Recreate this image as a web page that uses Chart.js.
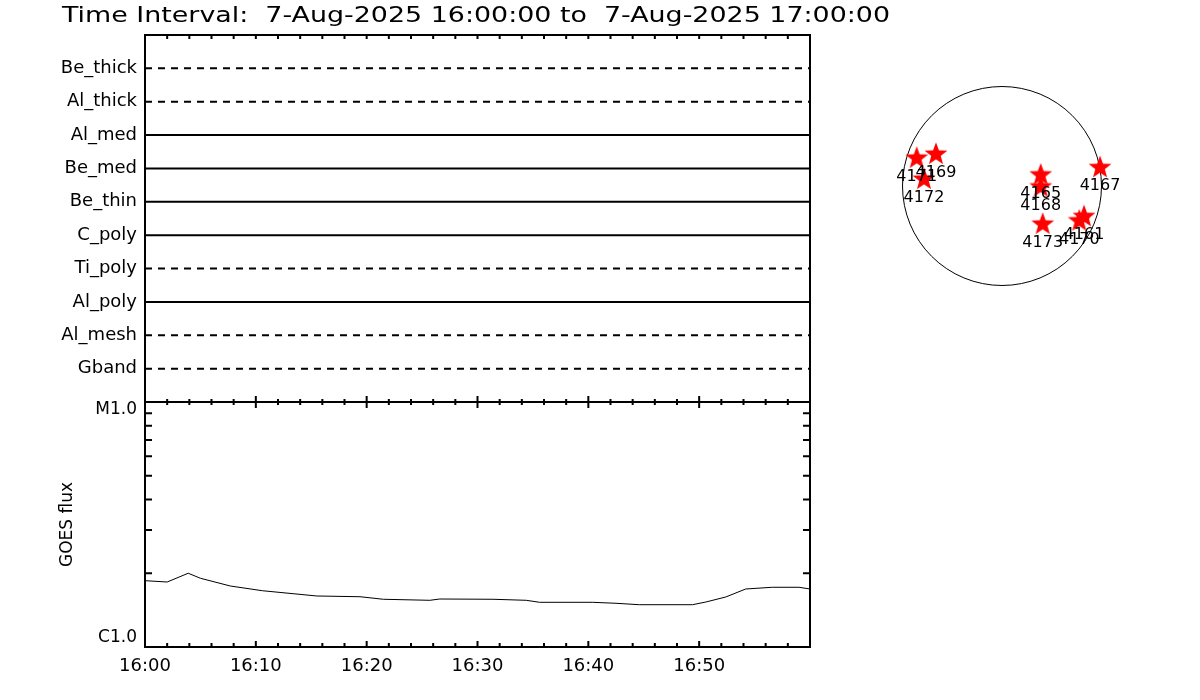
<!DOCTYPE html>
<html>
<head>
<meta charset="utf-8">
<script src="https://cdn.jsdelivr.net/npm/chart.js@4.4.1/dist/chart.umd.min.js"></script>
<style>
    html, body {margin: 0; padding: 0; background: #fff;}
    #wrap {position: relative; width: 1200px; height: 700px; overflow: hidden; background: #fff;}
    #main {position: absolute; left: 0; top: 0;}
    #disk {position: absolute; left: 872px; top: 56px;}
</style>
</head>
<body>
<div id="wrap">
    <canvas id="main" width="900" height="700"></canvas>
    <canvas id="disk" width="260" height="260"></canvas>
</div>
<script>
const titleText = 'Time Interval:  7-Aug-2025 16:00:00 to  7-Aug-2025 17:00:00';

// filter rows, top to bottom
const filterNames = ['Be_thick', 'Al_thick', 'Al_med', 'Be_med', 'Be_thin', 'C_poly', 'Ti_poly', 'Al_poly', 'Al_mesh', 'Gband'];
const filterDashed = [true, true, false, false, false, false, true, false, true, true];

// GOES flux, minutes after 16:00
const goesMinutes = [0, 2, 3.9, 5, 7.7, 10.6, 15.5, 19.4, 21.5, 25.7, 26.6, 31.4, 34.4, 35.6, 40.4, 42.5, 44.6, 49.4, 50.6, 52.4, 54.2, 56.6, 59, 60];
const goesFlux = [1.865e-6, 1.842e-6, 2.0e-6, 1.908e-6, 1.774e-6, 1.697e-6, 1.615e-6, 1.604e-6, 1.566e-6, 1.551e-6, 1.570e-6, 1.566e-6,
    1.551e-6, 1.522e-6, 1.522e-6, 1.508e-6, 1.488e-6, 1.488e-6, 1.526e-6, 1.600e-6, 1.725e-6, 1.753e-6, 1.753e-6, 1.725e-6];
const goesTickLabels = {'1e-6': 'C1.0', '1e-5': 'M1.0'};

// active regions on the disk (arcsec)
const arNumbers = ['4171', '4169', '4172', '4165', '4168', '4167', '4173', '4161', '4170'];
const arX = [-811, -628, -742, 368, 368, 932, 387, 780, 735];
const arY = [268, 306, 68, 109, -5, 179, -359, -287, -328];
const sunRadius = 946;

const FONT = "'DejaVu Sans', sans-serif";

const frame = {
    id: 'frame',
    afterDatasetsDraw(chart) {
        const {ctx, chartArea: a, scales} = chart;
        const x = scales.x, yg = scales.yg;
        const yMid = yg.getPixelForValue(1e-5);
        ctx.save();
        ctx.strokeStyle = '#000';
        ctx.lineWidth = 2;
        ctx.strokeRect(a.left, a.top, a.right - a.left, a.bottom - a.top);
        ctx.beginPath();
        ctx.moveTo(a.left, yMid);
        ctx.lineTo(a.right, yMid);
        ctx.stroke();

        ctx.beginPath();
        for (let m = 0; m <= 60; m += 2) {
            const px = x.getPixelForValue(m);
            const major = m % 10 === 0;
            ctx.moveTo(px, a.top);
            ctx.lineTo(px, a.top + 4);
            ctx.moveTo(px, yMid - (major ? 6 : 3));
            ctx.lineTo(px, yMid + (major ? 6 : 3));
            ctx.moveTo(px, a.bottom);
            ctx.lineTo(px, a.bottom - (major ? 6 : 4));
        }
        for (let k = 2; k <= 9; k++) {
            const py = yg.getPixelForValue(k * 1e-6);
            ctx.moveTo(a.left, py);
            ctx.lineTo(a.left + 7, py);
            ctx.moveTo(a.right, py);
            ctx.lineTo(a.right - 7, py);
        }
        ctx.stroke();

        ctx.fillStyle = '#000';
        ctx.font = '17px ' + FONT;
        ctx.textAlign = 'right';
        ctx.textBaseline = 'middle';
        ctx.fillText(goesTickLabels['1e-5'], a.left - 8, yMid + 8);
        ctx.fillText(goesTickLabels['1e-6'], a.left - 8, yg.getPixelForValue(1e-6) - 9);

        // title, stretched to the width of the original
        ctx.font = '22px ' + FONT;
        ctx.textAlign = 'left';
        const w0 = ctx.measureText(titleText).width;
        ctx.translate(62, 16);
        ctx.scale(828 / w0, 1);
        ctx.fillText(titleText, 0, 0);
        ctx.restore();
    }
};

const filterSets = filterNames.map((name, i) => ({
    label: name,
    data: [{x: 0, y: 10 - i}, {x: 60, y: 10 - i}],
    yAxisID: 'yf',
    borderColor: '#000',
    borderWidth: 2,
    borderDash: filterDashed[i] ? [7, 6] : [],
    pointRadius: 0
}));

const goesSet = {
    label: 'GOES',
    data: goesMinutes.map((m, i) => ({x: m, y: goesFlux[i]})),
    yAxisID: 'yg',
    borderColor: '#000',
    borderWidth: 1,
    pointRadius: 0,
    tension: 0
};

new Chart(document.getElementById('main').getContext('2d'), {
    type: 'line',
    data: {datasets: [...filterSets, goesSet]},
    options: {
        responsive: false,
        animation: false,
        devicePixelRatio: 1,
        layout: {autoPadding: false, padding: {top: 35, right: 90, left: 0, bottom: 0}},
        plugins: {legend: {display: false}, tooltip: {enabled: false}},
        scales: {
            x: {
                type: 'linear', min: 0, max: 60,
                grid: {display: false, drawTicks: false},
                border: {display: false},
                ticks: {
                    stepSize: 10, autoSkip: false, maxRotation: 0, padding: 9,
                    color: '#000', font: {family: FONT, size: 18},
                    callback: v => v < 60 ? '16:' + String(v).padStart(2, '0') : ''
                },
                afterFit: s => { s.height = 53; }
            },
            yg: {
                type: 'logarithmic', min: 1e-6, max: 1e-5,
                position: 'left', stack: 'p', stackWeight: 245,
                grid: {display: false, drawTicks: false},
                border: {display: false},
                ticks: {display: false},
                title: {display: true, text: 'GOES flux', color: '#000', font: {family: FONT, size: 17}, padding: {top: 57, bottom: 0}},
                afterFit: s => { s.width = 145; }
            },
            yf: {
                type: 'linear', min: 0, max: 11,
                position: 'left', stack: 'p', stackWeight: 367,
                grid: {display: false, drawTicks: false},
                border: {display: false},
                ticks: {
                    stepSize: 1, autoSkip: false, padding: 8,
                    color: '#000', font: {family: FONT, size: 18},
                    callback: v => (v >= 1 && v <= 10) ? filterNames[10 - v] : ''
                },
                afterFit: s => { s.width = 145; }
            }
        }
    },
    plugins: [frame]
});

// filled red star marker
const star = document.createElement('canvas');
star.width = 26;
star.height = 26;
(function () {
    const c = star.getContext('2d');
    c.fillStyle = '#ff0000';
    c.beginPath();
    for (let k = 0; k < 10; k++) {
        const r = k % 2 === 0 ? 12 : 5;
        const ang = -Math.PI / 2 + k * Math.PI / 5;
        const px = 13 + r * Math.cos(ang), py = 13.5 + r * Math.sin(ang);
        if (k === 0) c.moveTo(px, py); else c.lineTo(px, py);
    }
    c.closePath();
    c.fill();
})();

const limbAndLabels = {
    id: 'limbAndLabels',
    beforeDatasetsDraw(chart) {
        const {ctx, scales: {x, y}} = chart;
        const cx = x.getPixelForValue(0), cy = y.getPixelForValue(0);
        const r = x.getPixelForValue(sunRadius) - cx;
        ctx.save();
        ctx.strokeStyle = '#000';
        ctx.lineWidth = 1;
        ctx.beginPath();
        ctx.arc(cx, cy, r, 0, Math.PI * 2);
        ctx.stroke();
        ctx.restore();
    },
    afterDatasetsDraw(chart) {
        const {ctx, scales: {x, y}} = chart;
        ctx.save();
        ctx.fillStyle = '#000';
        ctx.font = '16px ' + FONT;
        ctx.textAlign = 'center';
        ctx.textBaseline = 'middle';
        arNumbers.forEach((n, i) => {
            ctx.fillText(n, x.getPixelForValue(arX[i]), y.getPixelForValue(arY[i]) + 19);
        });
        ctx.restore();
    }
};

new Chart(document.getElementById('disk').getContext('2d'), {
    type: 'scatter',
    data: {
        datasets: [{
            data: arX.map((v, i) => ({x: v, y: arY[i]})),
            pointStyle: star,
            clip: false
        }]
    },
    options: {
        responsive: false,
        animation: false,
        devicePixelRatio: 1,
        layout: {autoPadding: false, padding: 0},
        plugins: {legend: {display: false}, tooltip: {enabled: false}},
        scales: {
            x: {type: 'linear', min: -1236, max: 1236, display: false},
            y: {type: 'linear', min: -1236, max: 1236, display: false}
        }
    },
    plugins: [limbAndLabels]
});
</script>
</body>
</html>
